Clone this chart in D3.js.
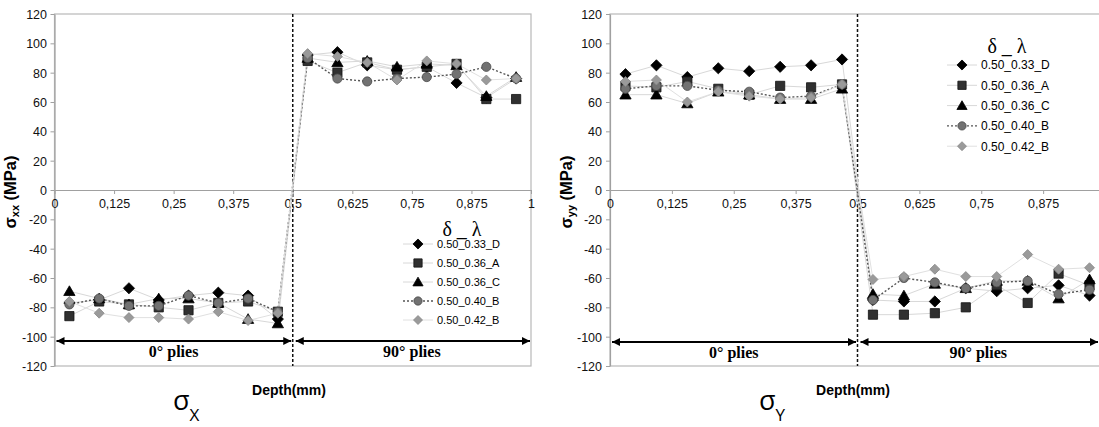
<!DOCTYPE html>
<html><head><meta charset="utf-8">
<script src="https://cdn.jsdelivr.net/npm/d3@7"></script>
<style>body{margin:0;background:#fff}svg{display:block}</style>
</head><body>
<svg id="c" width="1099" height="427"></svg>
<script>
// ---------- data ----------
const depth = [0.03125,0.09375,0.15625,0.21875,0.28125,0.34375,0.40625,0.46875,
               0.53125,0.59375,0.65625,0.71875,0.78125,0.84375,0.90625,0.96875];
const seriesNames = ["0.50_0.33_D","0.50_0.36_A","0.50_0.36_C","0.50_0.40_B","0.50_0.42_B"];

// sigma_xx (MPa)
const sxx_D   = [-77,-75,-67,-75,-72,-70,-72,-88, 92,94,85,82,84,73,63,76];
const sxx_A   = [-86,-76,-78,-80,-82,-77,-76,-83, 88,80,87,82,84,86,62,62];
const sxx_C   = [-69,-74,-78,-74,-74,-77,-88,-91, 90,87,88,84,86,85,64,77];
const sxx_B40 = [-78,-74,-79,-79,-72,-77,-74,-83, 90,76,74,76,77,79,84,76];
const sxx_B42 = [-76,-84,-87,-87,-88,-83,-89,-84, 93,91,87,75,88,86,75,76];

// sigma_yy (MPa)
const syy_D   = [79,85,77,83,81,84,85,89, -75,-76,-76,-67,-69,-67,-65,-72];
const syy_A   = [71,70,74,69,65,71,70,72, -85,-85,-84,-80,-65,-77,-57,-65];
const syy_C   = [65,65,59,67,65,62,62,69, -71,-72,-64,-67,-62,-62,-74,-61];
const syy_B40 = [69,71,71,68,67,63,64,72, -75,-60,-63,-67,-63,-62,-71,-68];
const syy_B42 = [74,75,60,67,64,62,63,72, -61,-59,-54,-59,-59,-44,-54,-53];

const xTicks = [0,0.125,0.25,0.375,0.5,0.625,0.75,0.875,1];
const xTickLabels = ["0","0,125","0,25","0,375","0,5","0,625","0,75","0,875","1"];
const yTicks = [120,100,80,60,40,20,0,-20,-40,-60,-80,-100,-120];
const yDomain = [-120,120];

// ---------- styles ----------
const styles = [
  {shape:"diamond", fill:"#000", stroke:"#000", size:5.6, line:"#d8d8d8", dash:null, lw:1},
  {shape:"square",  fill:"#303030", stroke:"#111", size:4.6, line:"#d8d8d8", dash:null, lw:1},
  {shape:"triangle",fill:"#000", stroke:"#000", size:5.4, line:"#d8d8d8", dash:null, lw:1},
  {shape:"circle",  fill:"#727272", stroke:"#4a4a4a", size:4.6, line:"#555", dash:"2,2", lw:1.4},
  {shape:"diamond", fill:"#9a9a9a", stroke:"#888", size:5.0, line:"#e0e0e0", dash:null, lw:1}
];
function shapePath(shape, s){
  if(shape==="diamond") return `M0,${-s}L${s},0L0,${s}L${-s},0Z`;
  if(shape==="square") return `M${-s},${-s}H${s}V${s}H${-s}Z`;
  if(shape==="triangle") return `M0,${-s}L${s*1.05},${s*0.8}L${-s*1.05},${s*0.8}Z`;
  return d3.symbol(d3.symbolCircle, Math.PI*s*s)();
}

const svg = d3.select("#c");
const defs = svg.append("defs");
defs.append("marker").attr("id","ah").attr("viewBox","0 0 10 10").attr("refX",10).attr("refY",5)
  .attr("markerWidth",10).attr("markerHeight",8).attr("markerUnits","userSpaceOnUse").attr("orient","auto-start-reverse")
  .append("path").attr("d","M0,0L10,5L0,10Z").attr("fill","#000");

const panels = [
  {x0:54.5, x1:531, series:[sxx_D,sxx_A,sxx_C,sxx_B40,sxx_B42], sub:"xx", ylabX:16,
   tickLabX:47, legX:418, legY:244, legStep:19, legFont:11, headX:462, headY:236,
   sigma:"X", sigX:173, showLast:true, arrowY:341, depthX:289},
  {x0:610, x1:1105, series:[syy_D,syy_A,syy_C,syy_B40,syy_B42], sub:"yy", ylabX:572,
   tickLabX:602, legX:962, legY:65, legStep:20.3, legFont:12, headX:1007, headY:53,
   sigma:"Y", sigX:759, showLast:false, arrowY:342, depthX:853}
];

const y = d3.scaleLinear().domain(yDomain).range([366,14]);

panels.forEach(p=>{
  const x = d3.scaleLinear().domain([0,1]).range([p.x0,p.x1]);
  const g = svg.append("g");
  g.append("rect").attr("x",p.x0).attr("y",y(120)).attr("width",p.x1-p.x0).attr("height",y(-120)-y(120))
    .attr("fill","none").attr("stroke","#b8b8b8").attr("stroke-width",1.2);
  const yAxis = d3.axisLeft(y).tickValues(yTicks).tickSize(4).tickSizeOuter(0).tickFormat(d=>d);
  const ya = g.append("g").attr("transform",`translate(${p.x0},0)`).call(yAxis);
  ya.select(".domain").attr("stroke","#a0a0a0").attr("stroke-width",1.2);
  ya.selectAll(".tick line").attr("stroke","#a0a0a0");
  ya.selectAll("text").attr("font-family","Liberation Sans, Arial").attr("font-size",12.5).attr("fill","#111")
    .attr("x",-(p.x0-p.tickLabX)).attr("dy","0.36em");
  const xt = p.showLast ? xTicks : xTicks.slice(0,-1);
  const xAxis = d3.axisBottom(x).tickValues(xt).tickSize(4).tickSizeOuter(0)
    .tickFormat(d=>xTickLabels[xTicks.indexOf(d)]);
  const xa = g.append("g").attr("transform",`translate(0,${y(0)})`).call(xAxis);
  xa.select(".domain").attr("stroke","#a0a0a0").attr("stroke-width",1.2);
  xa.selectAll(".tick line").attr("stroke","#a0a0a0");
  xa.selectAll("text").attr("font-family","Liberation Sans, Arial").attr("font-size",12.5).attr("fill","#111").attr("y",9);

  g.append("line").attr("x1",x(0.5)).attr("x2",x(0.5)).attr("y1",y(120)).attr("y2",y(-120))
    .attr("stroke","#111").attr("stroke-width",1.5).attr("stroke-dasharray","3,2");

  const line = d3.line().x((d,i)=>x(depth[i])).y(d=>y(d));
  p.series.forEach((s,k)=>{
    const st = styles[k];
    g.append("path").attr("d",line(s)).attr("fill","none").attr("stroke",st.line)
      .attr("stroke-width",st.lw).attr("stroke-dasharray",st.dash);
  });
  p.series.forEach((s,k)=>{
    const st = styles[k];
    g.append("g").selectAll("path").data(s).join("path")
      .attr("transform",(d,i)=>`translate(${x(depth[i])},${y(d)})`)
      .attr("d",shapePath(st.shape,st.size)).attr("fill",st.fill).attr("stroke",st.stroke).attr("stroke-width",0.8);
  });

  [[x(0)+2,x(0.5)-1.5],[x(0.5)+3,Math.min(x(1),1099)-1]].forEach(a=>{
    g.append("line").attr("x1",a[0]).attr("x2",a[1]).attr("y1",p.arrowY).attr("y2",p.arrowY)
      .attr("stroke","#000").attr("stroke-width",2).attr("marker-start","url(#ah)").attr("marker-end","url(#ah)");
  });
  g.append("text").attr("x",(x(0)+x(0.5))/2).attr("y",p.arrowY+16).attr("text-anchor","middle")
    .attr("font-family","Liberation Serif, Times New Roman").attr("font-weight","bold").attr("font-size",16).text("0° plies");
  g.append("text").attr("x",p.showLast?(x(0.5)+x(1))/2:(x(0.5)+1099)/2).attr("y",p.arrowY+16).attr("text-anchor","middle")
    .attr("font-family","Liberation Serif, Times New Roman").attr("font-weight","bold").attr("font-size",16).text("90° plies");

  g.append("text").attr("x",p.depthX).attr("y",395).attr("text-anchor","middle")
    .attr("font-family","Liberation Sans, Arial").attr("font-weight","bold").attr("font-size",14).text("Depth(mm)");
  const yl = g.append("text").attr("transform",`translate(${p.ylabX},192) rotate(-90)`).attr("text-anchor","middle")
    .attr("font-family","Liberation Sans, Arial").attr("font-weight","bold").attr("font-size",16.5);
  yl.append("tspan").text("σ");
  yl.append("tspan").attr("font-size",11).attr("dy",3).text(p.sub);
  yl.append("tspan").attr("dy",-3).text(" (MPa)");

  const sl = g.append("text").attr("x",p.sigX).attr("y",410).attr("font-family","Open Sans, Noto Sans, sans-serif").attr("font-size",27);
  sl.append("tspan").text("σ");
  sl.append("tspan").attr("font-size",17).attr("dy",11).text(p.sigma);

  g.append("text").attr("x",p.headX).attr("y",p.headY).attr("text-anchor","middle")
    .attr("font-family","Liberation Serif, Times New Roman").attr("font-size",20).text("δ _ λ");
  seriesNames.forEach((n,k)=>{
    const st = styles[k];
    const ly = p.legY + k*p.legStep;
    g.append("line").attr("x1",p.legX-15).attr("x2",p.legX+15).attr("y1",ly).attr("y2",ly)
      .attr("stroke",st.line).attr("stroke-width",st.lw).attr("stroke-dasharray",st.dash);
    g.append("path").attr("transform",`translate(${p.legX},${ly})`).attr("d",shapePath(st.shape,st.size*0.9))
      .attr("fill",st.fill).attr("stroke",st.stroke).attr("stroke-width",0.8);
    g.append("text").attr("x",p.legX+19).attr("y",ly).attr("dy","0.36em")
      .attr("font-family","Liberation Sans, Arial").attr("font-size",p.legFont).text(n);
  });
});
</script>
</body></html>
